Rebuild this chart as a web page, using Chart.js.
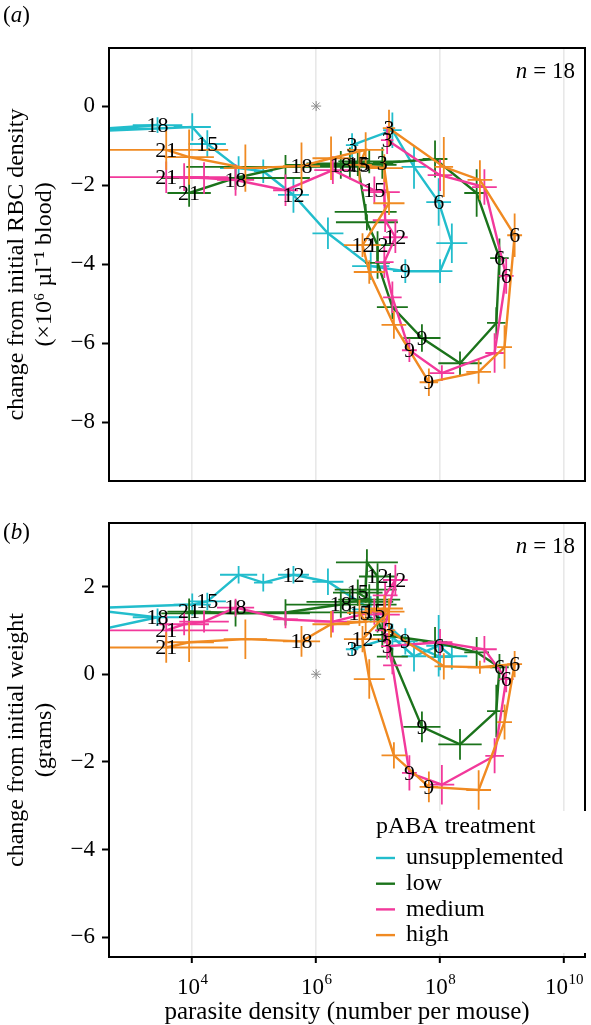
<!DOCTYPE html>
<html><head><meta charset="utf-8">
<script src="https://cdn.jsdelivr.net/npm/chart.js@4.4.1/dist/chart.umd.min.js"></script>
<style>
html,body{margin:0;padding:0;background:#fff;}
#wrap{position:relative;width:591px;height:1025px;overflow:hidden;font-family:'Liberation Serif',serif;background:#fff;}
canvas{position:absolute;left:0;}
.plabel{position:absolute;left:3px;font-size:23px;line-height:26px;color:#000;}
</style></head><body>
<div id="wrap">
<canvas id="ca" width="591" height="502" style="top:0;width:591px;height:502px"></canvas>
<canvas id="cb" width="591" height="523" style="top:502px;width:591px;height:523px"></canvas>
<div class="plabel" style="top:2px">(<i>a</i>)</div>
<div class="plabel" style="top:519px">(<i>b</i>)</div>
</div>
<script>
// ---------------- data ----------------
const unsuppDays = [3,4,5,6,7,8,9,10,11,12,13,14,15,16,17,18,19];
const treatDays  = [3,4,5,6,7,8,9,10,11,12,13,14,15,16,17,18,19,20,21];
const labelDays  = [3,6,9,12,15,18,21];

const unsuppDensity = [3.8e6,1.7e7,3.8e7,9.5e7,1.55e8,1.0e8,2.75e7,7.6e6,1.55e6,4.3e5,1.4e5,5.6e4,1.75e4,1.0e4,160,2.75e3,200];
const unsuppRBC     = [-0.99,-0.61,-1.54,-2.43,-3.47,-4.18,-4.18,-4.05,-3.22,-2.25,-1.65,-1.57,-0.96,-0.53,-0.65,-0.48,-0.6];
const unsuppWeight  = [0.57,0.85,0.41,0.65,0.41,0.39,0.75,1.48,2.11,2.27,2.09,2.27,1.66,1.59,1.5,1.3,0.95];
const unsuppDensityErr = [0.1,0.15,0.2,0.2,0.25,0.2,0.2,0.3,0.25,0.25,0.15,0.3,0.3,0.3,0.3,0.4,0.3];
const unsuppRBCErr     = [0.3,0.45,0.55,0.6,0.5,0.3,0.3,0.35,0.4,0.45,0.3,0.3,0.35,0.35,0.3,0.2,0.3];
const unsuppWeightErr  = [0.15,0.3,0.35,0.7,0.3,0.3,0.3,0.3,0.3,0.2,0.2,0.2,0.2,0.25,0.2,0.2,0.2];

const lowDensity = [1.17e7,8.3e7,3.9e8,9.1e8,8.1e8,2.1e8,5.1e7,1.7e7,9.8e6,9.8e6,6.6e6,6.3e6,4.7e6,7.2e6,3.5e6,2.5e6,3.2e5,5.0e4,8.9e3];
const lowRBC     = [-1.44,-1.34,-2.2,-3.85,-5.49,-6.51,-5.87,-5.09,-3.97,-3.52,-2.94,-2.68,-1.47,-1.4,-1.45,-1.49,-1.54,-1.82,-2.2];
const lowWeight  = [0.9,0.73,0.5,0.16,-0.84,-1.6,-1.2,0.4,1.25,2.23,2.55,1.93,1.86,1.7,1.65,1.59,1.41,1.39,1.43];
const lowDensityErr = [0.15,0.2,0.2,0.15,0.15,0.35,0.3,0.25,0.2,0.3,0.5,0.5,0.4,0.5,0.7,0.9,1.6,1.2,0.35];
const lowRBCErr     = [0.4,0.47,0.6,0.5,0.4,0.3,0.35,0.3,0.4,0.35,0.2,0.2,0.3,0.3,0.4,0.35,0.3,0.3,0.35];
const lowWeightErr  = [0.3,0.35,0.35,0.3,0.6,0.35,0.35,0.2,0.3,0.3,0.3,0.3,0.3,0.35,0.3,0.3,0.3,0.3,0.3];

const medDensity = [1.4e7,1.0e8,5.2e8,1.17e9,7.6e8,1.07e8,3.2e7,1.7e7,1.26e7,1.9e7,1.3e7,1.26e7,8.7e6,1.86e6,3.2e5,5.0e4,1.55e4,7.4e3,3.8e3];
const medRBC     = [-0.86,-1.75,-2.05,-4.3,-6.25,-6.76,-6.18,-4.84,-3.95,-3.32,-2.89,-2.18,-2.13,-1.62,-2.13,-1.87,-1.82,-1.8,-1.8];
const medWeight  = [0.64,0.73,0.57,-0.11,-1.86,-2.52,-2.25,0.2,1.0,2.15,1.8,1.36,1.43,1.2,1.25,1.52,1.2,1.14,1.0];
const medDensityErr = [0.1,0.2,0.2,0.12,0.15,0.2,0.12,0.15,0.15,0.2,0.2,0.25,0.2,0.3,0.2,0.3,0.4,0.4,1.0];
const medRBCErr     = [0.35,0.4,0.45,0.45,0.5,0.2,0.3,0.4,0.4,0.4,0.3,0.35,0.35,0.35,0.4,0.4,0.4,0.35,0.4];
const medWeightErr  = [0.3,0.3,0.3,0.3,0.4,0.45,0.4,0.2,0.3,0.35,0.3,0.3,0.3,0.25,0.2,0.2,0.25,0.25,0.35];

const highDensity = [1.5e7,1.15e8,4.4e8,1.6e9,1.1e9,4.2e8,6.6e7,1.8e7,7.2e6,5.6e6,1.5e7,1.26e7,5.0e6,6.3e6,1.74e6,5.8e5,7.2e4,8.9e3,3.8e3];
const highRBC     = [-0.56,-1.54,-1.87,-3.27,-6.1,-6.73,-6.99,-5.54,-4.2,-3.52,-2.46,-1.57,-1.49,-1.11,-1.32,-1.52,-1.57,-1.29,-1.11];
const highWeight  = [1.0,0.18,0.16,0.23,-1.09,-2.64,-2.57,-1.85,-0.11,0.8,1.43,1.5,1.4,1.2,1.14,0.75,0.8,0.73,0.61];
const highDensityErr = [0.1,0.15,0.2,0.12,0.12,0.2,0.15,0.2,0.25,0.3,0.25,0.3,0.2,0.3,0.3,0.3,0.35,0.4,1.0];
const highRBCErr     = [0.47,0.76,0.5,0.55,0.55,0.3,0.35,0.35,0.3,0.3,0.3,0.35,0.4,0.45,0.55,0.6,0.6,0.7,0.5];
const highWeightErr  = [0.35,0.3,0.15,0.3,0.4,0.45,0.35,0.3,0.45,0.3,0.3,0.3,0.3,0.35,0.3,0.35,0.45,0.45,0.35];

const startPoint = {density: 1e6, change: 0};   // grey asterisk
const xTickValues = [1e4, 1e6, 1e8, 1e10];
const xTickBase = '10';
const xTickExponents = ['4','6','8','10'];
const yTicksA = [-8,-6,-4,-2,0];
const yTicksB = [-6,-4,-2,0,2];
const sampleN = 18;
const legendTitle = 'pABA treatment';

// ---------------- series table ----------------
const series = [
  {label:'unsupplemented', color:'#22bdcc', days:unsuppDays, x:unsuppDensity, a:unsuppRBC, b:unsuppWeight, xe:unsuppDensityErr, ae:unsuppRBCErr, be:unsuppWeightErr},
  {label:'low',    color:'#1b731b', days:treatDays, x:lowDensity,  a:lowRBC,  b:lowWeight,  xe:lowDensityErr,  ae:lowRBCErr,  be:lowWeightErr},
  {label:'medium', color:'#f2399b', days:treatDays, x:medDensity,  a:medRBC,  b:medWeight,  xe:medDensityErr,  ae:medRBCErr,  be:medWeightErr},
  {label:'high',   color:'#f08a22', days:treatDays, x:highDensity, a:highRBC, b:highWeight, xe:highDensityErr, ae:highRBCErr, be:highWeightErr}
];

const SERIF = "'Liberation Serif', 'Times New Roman', serif";
Chart.defaults.font.family = SERIF;
Chart.defaults.color = '#000';

const fmtY = v => v < 0 ? '\u2212' + Math.abs(v) : String(v);

const extras = {
  id: 'extras',
  beforeDatasetDraw(chart, args) {
    const ds = chart.data.datasets[args.index];
    if (!ds.err) return;
    const {ctx, chartArea: a} = chart;
    const xs = chart.scales.x, ys = chart.scales.y;
    ctx.save();
    ctx.beginPath(); ctx.rect(a.left, a.top, a.right - a.left, a.bottom - a.top); ctx.clip();
    ctx.strokeStyle = ds.borderColor; ctx.lineWidth = 1.8; ctx.lineCap = 'butt';
    ds.data.forEach((p, i) => {
      const ex = ds.err.x[i], ey = ds.err.y[i];
      const px = xs.getPixelForValue(p.x), py = ys.getPixelForValue(p.y);
      ctx.beginPath();
      ctx.moveTo(xs.getPixelForValue(p.x / Math.pow(10, ex)), py);
      ctx.lineTo(xs.getPixelForValue(p.x * Math.pow(10, ex)), py);
      ctx.moveTo(px, ys.getPixelForValue(p.y - ey));
      ctx.lineTo(px, ys.getPixelForValue(p.y + ey));
      ctx.stroke();
    });
    ctx.restore();
  },
  afterDatasetsDraw(chart) {
    const {ctx, chartArea: a} = chart;
    const xs = chart.scales.x, ys = chart.scales.y;
    ctx.save();
    ctx.fillStyle = '#000';
    ctx.font = '22px ' + SERIF;
    ctx.textAlign = 'center'; ctx.textBaseline = 'middle';
    chart.data.datasets.forEach(ds => {
      if (!ds.dayList) return;
      ds.data.forEach((p, i) => {
        if (!labelDays.includes(ds.dayList[i])) return;
        const px = xs.getPixelForValue(p.x), py = ys.getPixelForValue(p.y);
        if (px < a.left || px > a.right || py < a.top || py > a.bottom) return;
        ctx.fillText(String(ds.dayList[i]), px, py + 1);
      });
    });
    ctx.restore();
  },
  afterDraw(chart, args, opts) {
    const {ctx, chartArea: a} = chart;
    const xs = chart.scales.x;
    ctx.save();
    // panel frame
    ctx.strokeStyle = '#000'; ctx.lineWidth = 2;
    ctx.strokeRect(a.left, a.top, a.right - a.left, a.bottom - a.top);
    // x tick labels with superscript exponents
    if (opts.xLabels) {
      ctx.fillStyle = '#000'; ctx.textBaseline = 'alphabetic'; ctx.textAlign = 'left';
      xTickValues.forEach((v, i) => {
        const px = xs.getPixelForValue(v);
        ctx.font = '23px ' + SERIF;
        const wb = ctx.measureText(xTickBase).width;
        ctx.font = '15px ' + SERIF;
        const we = ctx.measureText(xTickExponents[i]).width;
        const x0 = px - (wb + we) / 2;
        const base = a.bottom + 37;
        ctx.font = '23px ' + SERIF;
        ctx.fillText(xTickBase, x0, base);
        ctx.font = '15px ' + SERIF;
        ctx.fillText(xTickExponents[i], x0 + wb + 0.5, base - 10);
      });
    }
    // n = 18
    ctx.fillStyle = '#000'; ctx.textBaseline = 'middle'; ctx.textAlign = 'right';
    ctx.font = '23px ' + SERIF;
    const t = '= ' + sampleN;
    const rx = a.right - 10, ny = a.top + 24;
    ctx.fillText(t, rx, ny);
    const w = ctx.measureText(t).width;
    ctx.font = 'italic 23px ' + SERIF;
    ctx.fillText('n', rx - w - 6, ny);
    // legend
    if (opts.legend) {
      const L = opts.legend;
      ctx.fillStyle = '#fff';
      ctx.fillRect(L.x - 8, L.y - 16, 588 - (L.x - 8) - 1, 142);
      ctx.fillStyle = '#000'; ctx.textAlign = 'left';
      ctx.font = '24px ' + SERIF;
      ctx.fillText(legendTitle, L.x, L.y);
      series.forEach((s, i) => {
        const yy = L.y + 31 + i * 25.7;
        ctx.strokeStyle = s.color; ctx.lineWidth = 2.4;
        ctx.beginPath(); ctx.moveTo(L.x, yy); ctx.lineTo(L.x + 19, yy); ctx.stroke();
        ctx.fillStyle = '#000';
        ctx.font = '24px ' + SERIF;
        ctx.fillText(s.label, L.x + 30, yy);
      });
    }
    ctx.restore();
  }
};

function makeChart(id, key, opt) {
  const datasets = series.map((s, i) => ({
    label: s.label,
    data: s.days.map((d, j) => ({x: s.x[j], y: s[key][j]})),
    dayList: s.days,
    err: {x: s.xe, y: s[key + 'e']},
    borderColor: s.color,
    backgroundColor: s.color,
    borderWidth: 2.4,
    pointRadius: 0,
    showLine: true,
    tension: 0,
    order: 4 - i
  }));
  datasets.push({
    label: 'start',
    data: [{x: startPoint.density, y: startPoint.change}],
    pointStyle: 'star', pointRadius: 5, borderWidth: 1,
    borderColor: '#8a8a8a', backgroundColor: '#8a8a8a',
    showLine: false, order: 10
  });
  return new Chart(document.getElementById(id), {
    type: 'scatter',
    data: {datasets},
    plugins: [extras],
    options: {
      responsive: false, animation: false, devicePixelRatio: 1, events: [],
      layout: {padding: {top: opt.padTop, right: 3, left: 0, bottom: 0}},
      plugins: {legend: {display: false}, tooltip: {enabled: false}, extras: {legend: opt.legend, xLabels: opt.xLabels}},
      scales: {
        x: {
          type: 'logarithmic', min: Math.pow(10, 2.656), max: Math.pow(10, 10.34),
          afterBuildTicks: s => { s.ticks = xTickValues.map(v => ({value: v})); },
          afterFit: s => { s.height = opt.xHeight; },
          ticks: {display: false},
          grid: {color: '#e8e8e8', lineWidth: 1.6, drawTicks: opt.xLabels, tickColor: '#000', tickWidth: 2, tickLength: 6},
          border: {display: false},
          title: {display: opt.xLabels, text: 'parasite density (number per mouse)', font: {size: 25, lineHeight: 1.0}, padding: {top: 0, bottom: 0}, color: '#000'}
        },
        y: {
          min: opt.ymin, max: opt.ymax,
          afterBuildTicks: s => { s.ticks = opt.yTicks.map(v => ({value: v})); },
          afterFit: s => { s.width = 109; },
          ticks: {callback: v => fmtY(v), font: {size: 23}, padding: 7, color: '#000'},
          grid: {drawOnChartArea: false, drawTicks: true, tickColor: '#000', tickWidth: 2, tickLength: 7},
          border: {display: false},
          title: {display: true, text: opt.ytitle, font: {size: 24, lineHeight: 1.17}, padding: {top: 3, bottom: 0}, color: '#000'}
        }
      }
    }
  });
}

makeChart('ca', 'a', {
  padTop: 48, xHeight: 21, xLabels: false, ymin: -9.49, ymax: 1.47, yTicks: yTicksA,
  ytitle: ['change from initial RBC density', '(\u00d710\u2076 \u00b5l\u207b\u00b9 blood)'], legend: null
});
makeChart('cb', 'b', {
  padTop: 21, xHeight: 68, xLabels: true, ymin: -6.45, ymax: 3.45, yTicks: yTicksB,
  ytitle: ['change from initial weight', '(grams)'], legend: {x: 376, y: 325}
});
</script>
</body></html>
